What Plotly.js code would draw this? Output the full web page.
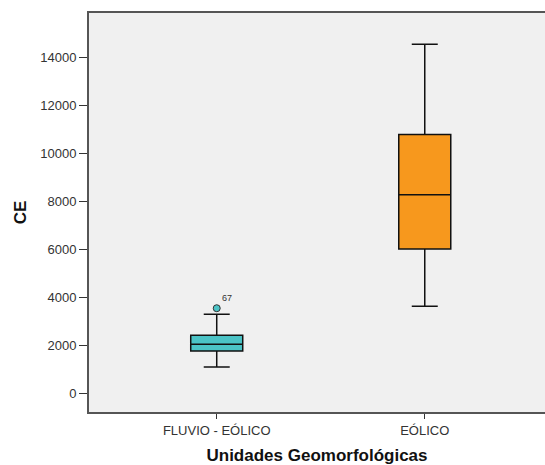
<!DOCTYPE html>
<html><head><meta charset="utf-8">
<script src="https://cdn.plot.ly/plotly-3.0.1.min.js"></script>
<style>html,body{margin:0;padding:0;background:#fff}#c{width:545px;height:465px}</style>
</head><body><div id="c"></div>
<script>
const categories = ["FLUVIO - EÓLICO", "EÓLICO"];
const lowerWhisker = [1107, 3634];
const q1 = [1773, 6020];
const median = [2052, 8268];
const q3 = [2427, 10782];
const upperWhisker = [3301, 14530];
const boxColors = ["#4bc3c6", "#f7981d"];
const outlierCategory = ["FLUVIO - EÓLICO"];
const outlierValue = [3551];
const outlierLabel = ["67"];

const traces = categories.map((c, i) => ({
  type: "box",
  x: [c],
  q1: [q1[i]], median: [median[i]], q3: [q3[i]],
  lowerfence: [lowerWhisker[i]], upperfence: [upperWhisker[i]],
  fillcolor: boxColors[i],
  line: {color: "#111", width: 1.5},
  width: 0.25,
  whiskerwidth: 0.5,
  boxpoints: false,
  showlegend: false,
  hoverinfo: "skip"
}));
traces.push({
  type: "scatter", mode: "markers+text",
  x: outlierCategory, y: outlierValue,
  text: outlierLabel, textposition: "top right",
  textfont: {family: "Liberation Sans, Arial", size: 9, color: "#333"},
  marker: {color: boxColors[0], size: 7, line: {color: "#333", width: 1}},
  showlegend: false, hoverinfo: "skip"
});

const layout = {
  width: 545, height: 465,
  margin: {l: 89, r: 0, t: 13, b: 53},
  paper_bgcolor: "#ffffff",
  plot_bgcolor: "#f0f0f0",
  font: {family: "Liberation Sans, Arial", size: 13, color: "#333"},
  xaxis: {
    type: "category",
    categoryarray: categories,
    range: [-0.614, 1.578],
    showgrid: false, zeroline: false,
    showline: true, linecolor: "#555", linewidth: 2, mirror: true,
    ticks: "outside", ticklen: 5, tickcolor: "#333", tickwidth: 1,
    tickfont: {size: 13, color: "#333"},
    title: {text: "<b>Unidades Geomorfológicas</b>", font: {size: 17, color: "#111"}, standoff: 14}
  },
  yaxis: {
    range: [-766, 15833],
    tickvals: [0, 2000, 4000, 6000, 8000, 10000, 12000, 14000],
    ticktext: ["0", "2000", "4000", "6000", "8000", "10000", "12000", "14000"],
    showgrid: false, zeroline: false,
    showline: true, linecolor: "#555", linewidth: 2,
    ticks: "outside", ticklen: 8, tickcolor: "#333", tickwidth: 1,
    tickfont: {size: 13, color: "#333"},
    title: {text: "<b>CE</b>", font: {size: 17, color: "#111"}, standoff: 9}
  }
};
Plotly.newPlot("c", traces, layout, {staticPlot: true, displayModeBar: false});
</script></body></html>
